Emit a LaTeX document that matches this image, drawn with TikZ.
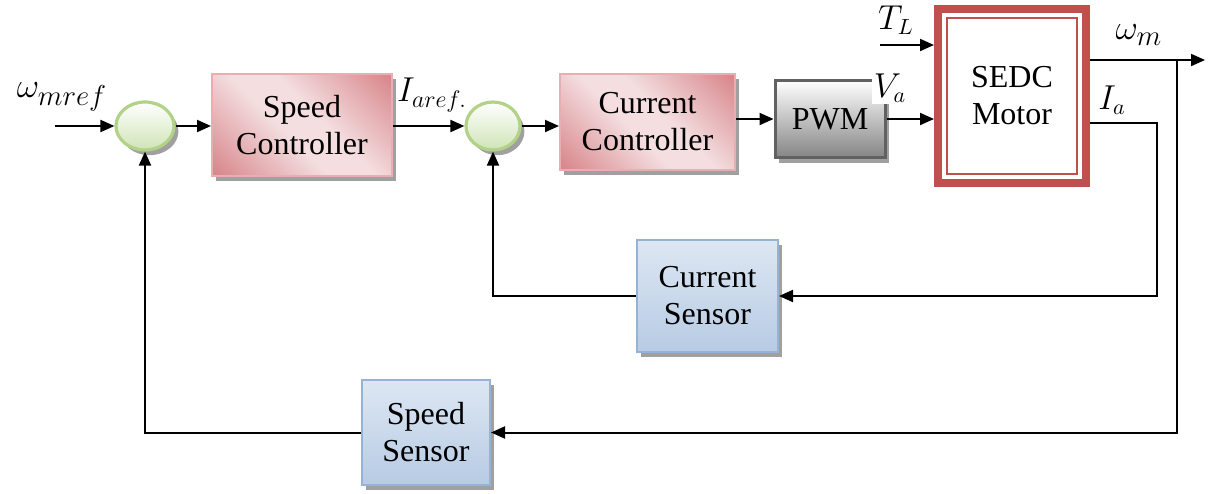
\documentclass[tikz,border=0pt]{standalone}
\usepackage{fontspec}
\setmainfont{Liberation Serif}
\usetikzlibrary{shapes.geometric,shadows,arrows.meta}

\definecolor{pinkdark}{HTML}{D8888C}
\definecolor{pinklight}{HTML}{F4DEE0}
\definecolor{pinkedge}{HTML}{E8AEB1}
\definecolor{bluetop}{HTML}{DDE7F3}
\definecolor{bluebot}{HTML}{B7CBE4}
\definecolor{blueedge}{HTML}{95B3D7}
\definecolor{greenedge}{HTML}{B2D287}
\definecolor{greenbot}{HTML}{CFE4B6}
\definecolor{motorred}{HTML}{C0504D}
\definecolor{shadowgray}{HTML}{A0A0A0}

% pale diagonal band between two darker corners
\pgfdeclareverticalshading{pinkband}{100bp}{color(0bp)=(pinkdark); color(16bp)=(pinkdark);
  color(44bp)=(pinklight); color(56bp)=(pinklight); color(84bp)=(pinkdark); color(100bp)=(pinkdark)}

\tikzset{
  lbl/.style={font=\fontsize{16}{18.5}\selectfont, align=center, inner sep=0pt},
  boxshadow/.style={drop shadow={shadow xshift=2.2pt, shadow yshift=-2.6pt, fill=shadowgray, opacity=1}},
  ctrlbox/.style={rectangle, draw=pinkedge, line width=1pt, boxshadow,
    shading=pinkband, shading angle=-45, lbl},
  sensbox/.style={rectangle, draw=blueedge, line width=1pt, boxshadow,
    top color=bluetop, bottom color=bluebot, lbl},
  pwmbox/.style={rectangle, draw=black!62, line width=1.5pt, boxshadow,
    top color=white, bottom color=black!48, lbl},
  sumnode/.style={ellipse, draw=greenedge, line width=1.6pt, boxshadow,
    top color=white, bottom color=greenbot, inner sep=0pt},
  motorbox/.style={rectangle, draw=motorred, line width=4pt, fill=white, lbl},
  sig/.style={line width=1pt},
  arr/.style={sig, -{Triangle[length=7pt,width=6pt]}},
  mlab/.style={font=\fontsize{16}{18}\selectfont, inner sep=1pt},
  mlabbig/.style={font=\fontsize{19}{21}\selectfont, inner sep=1pt},
}

\begin{document}
\begin{tikzpicture}[x=0.5pt, y=-0.5pt]
\useasboundingbox (0,0) rectangle (1208,493);

% blocks
\node[sumnode, minimum width=29pt, minimum height=24pt] (sum1) at (145,126) {};
\node[ctrlbox, minimum width=90pt, minimum height=51pt] (sc) at (302,125) {Speed\\Controller};
\node[sumnode, minimum width=27pt, minimum height=24pt] (sum2) at (493,126) {};
\node[ctrlbox, minimum width=87.5pt, minimum height=48pt] (cc) at (647.5,122) {Current\\Controller};
\node[pwmbox, minimum width=55pt, minimum height=38.5pt] (pwm) at (830,119) {PWM};
\node[motorbox, minimum width=74pt, minimum height=87pt] (motor) at (1012,96) {SEDC\\Motor};
% thin inner frame of the motor block
\draw[motorred, line width=1pt] ([shift={(13,-13)}]motor.south west) rectangle ([shift={(-13,13)}]motor.north east);
\node[sensbox, minimum width=70.5pt, minimum height=56pt] (cs) at (707.5,296) {Current\\Sensor};
\node[sensbox, minimum width=64pt, minimum height=52.5pt] (ss) at (426,432.5) {Speed\\Sensor};

% free ends and corners
\coordinate (win) at (55,126);
\coordinate (tlin) at (880,45);
\coordinate (wmend) at (1205,60);
\coordinate (wbr) at (1177,60);
\coordinate (iax) at (1157,0);
\coordinate (wmout) at ([yshift=18pt]motor.east);
\coordinate (iaout) at ([yshift=-13.5pt]motor.east);

% forward path
\draw[arr] (win) -- (sum1.west);
\draw[arr] (sum1.east) -- (sc.west |- sum1.east);
\draw[arr] (sc.east |- sum2.west) -- (sum2.west);
\draw[arr] (sum2.east) -- (cc.west |- sum2.east);
\draw[arr] (cc.east |- pwm.west) -- (pwm.west);
\draw[arr] (pwm.east) -- (motor.west |- pwm.east);
\draw[arr] (tlin) -- (motor.west |- tlin);
\draw[arr] (wmout) -- (wmend);

% feedback paths
\draw[arr] (iaout) -| (iax |- cs.east) -- (cs.east);
\draw[arr] (cs.west) -| (sum2.south);
\draw[arr] (wbr) |- (ss.east);
\draw[arr] (ss.west) -| (sum1.south);

% signal labels
\node[mlabbig] (lwref) at (62,97) {$\omega_{mref}$};
\node[mlab, font=\fontsize{17.5}{20}\selectfont] (liref) at (432,95) {$I_{aref.}$};
\node[mlab, fill=white] (lva) at (890,88) {$V_a$};
\node[mlab] (ltl) at (896,20) {$T_L$};
\node[mlabbig] (lwm) at (1139,35) {$\omega_m$};
\node[mlab] (lia) at (1112,100) {$I_a$};
\end{tikzpicture}
\end{document}
